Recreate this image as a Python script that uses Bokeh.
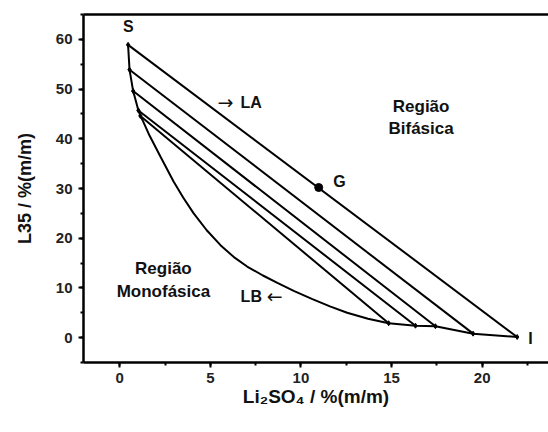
from bokeh.plotting import figure
from bokeh.models import Range1d, SingleIntervalTicker, LinearAxis, FixedTicker
from bokeh.core.properties import value
from bokeh.embed import file_html
from bokeh.resources import INLINE

# Binodal curve (Li2SO4 %, L35 %)
binodal_x = [0.46, 0.54, 0.74, 1.03, 1.14, 1.29, 1.65, 2.25, 2.97, 3.50, 4.08, 4.80,
             5.56, 6.30, 7.03, 7.90, 8.70, 9.60, 10.60, 11.60, 12.55, 13.70, 14.84,
             16.32, 17.42, 19.50, 21.93]
binodal_y = [58.9, 53.9, 49.6, 45.7, 44.6, 43.5, 40.6, 36.4, 31.4, 28.2, 25.0, 21.6,
             18.6, 16.2, 14.3, 12.5, 11.0, 9.4, 7.8, 6.3, 5.0, 3.8, 2.9,
             2.4, 2.3, 0.8, 0.13]

# Tie lines: top phase (L35-rich) and bottom phase (salt-rich) compositions
tie_top_x = [0.46, 0.54, 0.74, 1.03, 1.14]
tie_top_y = [58.9, 53.9, 49.6, 45.7, 44.6]
tie_bot_x = [21.93, 19.50, 17.42, 16.32, 14.84]
tie_bot_y = [0.13, 0.8, 2.3, 2.4, 2.9]

# Global composition point G
g_x = [10.98]
g_y = [30.2]

FONT = value("Liberation Sans")

p = figure(width=548, height=432, x_range=Range1d(-2, 23.66), y_range=Range1d(-5, 65),
           output_backend="svg", toolbar_location=None,
           min_border_left=83, min_border_right=0, min_border_top=14, min_border_bottom=70)
p.grid.visible = False
p.outline_line_color = None
p.background_fill_color = "white"
p.border_fill_color = "white"

xa = p.below[0]
ya = p.left[0]
for ax in (xa, ya):
    ax.axis_line_width = 2.5
    ax.axis_line_color = "black"
    ax.major_tick_line_width = 2
    ax.minor_tick_line_width = 2
    ax.major_tick_in = 0
    ax.major_tick_out = 5
    ax.minor_tick_in = 0
    ax.minor_tick_out = 3
    ax.major_label_text_font = "Liberation Sans"
    ax.major_label_text_font_style = "bold"
    ax.major_label_text_font_size = "15px"
    ax.major_label_text_color = "#222222"
    ax.axis_label_text_font = "Liberation Sans"
    ax.axis_label_text_font_style = "bold"
    ax.axis_label_text_font_size = "18px"
    ax.axis_label_text_color = "#111111"

xa.ticker = SingleIntervalTicker(interval=5, num_minor_ticks=2)
ya.ticker = SingleIntervalTicker(interval=10, num_minor_ticks=2)
xa.major_label_standoff = 5
ya.major_label_standoff = 6
xa.axis_label = "Li\u2082SO\u2084 / %(m/m)"
xa.axis_label_text_font_size = "19px"
ya.axis_label = "L35 / %(m/m)"
xa.axis_label_standoff = 0
ya.axis_label_standoff = 18

# top border line
top = LinearAxis(ticker=FixedTicker(ticks=[]), major_label_text_font_size="0px",
                 axis_line_width=2.5, axis_line_color="black",
                 major_tick_line_color=None, minor_tick_line_color=None,
                 major_label_standoff=0, major_tick_out=0, minor_tick_out=0)
p.add_layout(top, "above")

# binodal
p.line(binodal_x, binodal_y, line_color="black", line_width=2)
# tie lines
p.segment(x0=tie_top_x, y0=tie_top_y, x1=tie_bot_x, y1=tie_bot_y, line_color="black", line_width=2)
p.scatter(tie_top_x, tie_top_y, marker="diamond", size=5, color="black")
p.scatter(tie_bot_x, tie_bot_y, marker="diamond", size=5, color="black")
p.scatter(g_x, g_y, marker="circle", size=8, color="black")

def txt(x, y, s, size="16px", align="left", font=FONT, style="bold"):
    p.text(x=[x], y=[y], text=[s], text_font=font, text_font_style=style,
           text_font_size=size, text_align=align, text_baseline="middle", text_color="#111111")

ARROW = value("DejaVu Sans")
txt(0.48, 62.6, "S", "16px", "center")
txt(5.83, 47.4, "\u2192", "19px", "center", ARROW, "normal")
txt(6.66, 47.3, "LA", "16px", "left")
txt(16.63, 46.5, "Região", "17px", "center")
txt(16.63, 42.1, "Bifásica", "17px", "center")
txt(11.78, 31.5, "G", "16px", "left")
txt(2.41, 13.9, "Região", "17px", "center")
txt(2.41, 9.3, "Monofásica", "17px", "center")
txt(6.67, 8.3, "LB", "16px", "left")
txt(8.55, 8.4, "\u2190", "19px", "center", ARROW, "normal")
txt(22.66, -0.1, "I", "16px", "center")

open("out.html", "w").write(file_html(p, INLINE))
